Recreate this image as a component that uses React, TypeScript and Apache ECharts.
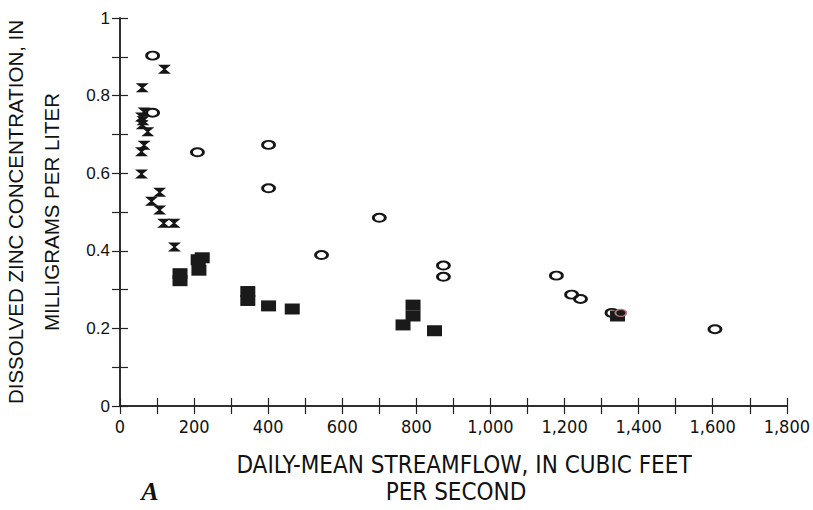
import React, { useEffect, useRef } from "react";
import * as echarts from "echarts";

// Daily-mean streamflow (ft³/s) and dissolved zinc (mg/L), three sample groups
const hourglassFlow = [60, 120, 65, 58, 62, 60, 75, 65, 58, 58, 107, 85, 107, 118, 146, 147];
const hourglassZinc = [0.82, 0.868, 0.758, 0.745, 0.735, 0.725, 0.707, 0.672, 0.655, 0.598, 0.551, 0.528, 0.505, 0.471, 0.471, 0.41];

const circleFlow = [88, 88, 209, 401, 401, 544, 700, 873, 873, 1178, 1219, 1243, 1328, 1606];
const circleZinc = [0.903, 0.756, 0.654, 0.673, 0.561, 0.389, 0.485, 0.362, 0.333, 0.336, 0.287, 0.276, 0.24, 0.198];

const squareFlow = [162, 162, 211, 222, 213, 345, 345, 401, 465, 791, 791, 764, 849, 1343];
const squareZinc = [0.341, 0.323, 0.377, 0.382, 0.35, 0.295, 0.272, 0.258, 0.25, 0.26, 0.232, 0.209, 0.194, 0.232];

// single reddish-rimmed circle over the square near 1,350
const tintedFlow = [1352];
const tintedZinc = [0.24];

const xTitleLines = ["DAILY-MEAN STREAMFLOW, IN CUBIC FEET", "PER SECOND"];
const yTitleLines = ["DISSOLVED ZINC CONCENTRATION, IN", "MILLIGRAMS PER LITER"];

const HOURGLASS = "path://M0,0 L12,0 L7,4 L12,8 L0,8 L5,4 Z";
const ELLIPSE = "path://M0,4 A6,4 0 1,1 12,4 A6,4 0 1,1 0,4 Z";

const NARROW = "'Liberation Sans Narrow', 'DejaVu Sans Condensed', 'Arial Narrow', sans-serif";
const SANS = "'Liberation Sans', Arial, sans-serif";

const zip = (xs: number[], ys: number[]) => xs.map((x, i) => [x, ys[i]]);

export default function App() {
  const ref = useRef<HTMLDivElement>(null);

  useEffect(() => {
    if (!ref.current) return;
    const chart = echarts.init(ref.current, null, { renderer: "svg" });

    const axisLine = { show: true, lineStyle: { color: "#222", width: 1.5 } };
    const tick = { show: true, inside: true, length: 8, lineStyle: { color: "#222", width: 1.2 } };

    const xLabel = (v: number) => (v % 200 === 0 ? v.toLocaleString("en-US") : "");
    const yLabel = (v: number) => {
      const t = Math.round(v * 10);
      if (t % 2 !== 0) return "";
      if (t === 0) return "0";
      if (t === 10) return "1";
      return (t / 10).toFixed(1);
    };

    chart.setOption({
      animation: false,
      backgroundColor: "#fff",
      grid: { left: 120, right: 20, top: 18, bottom: 104, containLabel: false },
      xAxis: [
        {
          type: "value",
          position: "bottom",
          min: 0,
          max: 1800,
          interval: 100,
          axisLine,
          axisTick: tick,
          splitLine: { show: false },
          axisLabel: {
            formatter: xLabel,
            margin: 11,
            color: "#111",
            fontSize: 18,
            fontFamily: NARROW,
          },
        },
        {
          type: "value",
          position: "top",
          min: 0,
          max: 1800,
          interval: 100,
          axisLine,
          axisTick: tick,
          splitLine: { show: false },
          axisLabel: { show: false },
        },
      ],
      yAxis: [
        {
          type: "value",
          position: "left",
          min: 0,
          max: 1,
          interval: 0.1,
          axisLine,
          axisTick: tick,
          splitLine: { show: false },
          axisLabel: {
            formatter: yLabel,
            margin: 10,
            color: "#111",
            fontSize: 17,
            fontFamily: SANS,
          },
        },
        {
          type: "value",
          position: "right",
          min: 0,
          max: 1,
          interval: 0.1,
          axisLine,
          axisTick: tick,
          splitLine: { show: false },
          axisLabel: { show: false },
        },
      ],
      series: [
        {
          type: "scatter",
          data: zip(circleFlow, circleZinc),
          symbol: ELLIPSE,
          symbolSize: [12, 8],
          itemStyle: { color: "rgba(0,0,0,0)", borderColor: "#151515", borderWidth: 2.4, opacity: 1 },
        },
        {
          type: "scatter",
          data: zip(squareFlow, squareZinc),
          symbol: "rect",
          symbolSize: [15, 11],
          itemStyle: { color: "#1a1a1a", opacity: 1 },
        },
        {
          type: "scatter",
          data: zip(tintedFlow, tintedZinc),
          symbol: ELLIPSE,
          symbolSize: [11, 7],
          itemStyle: { color: "#1a1a1a", borderColor: "#b87c7c", borderWidth: 1.5, opacity: 1 },
        },
        {
          type: "scatter",
          data: zip(hourglassFlow, hourglassZinc),
          symbol: HOURGLASS,
          symbolSize: [13, 9],
          itemStyle: { color: "#151515", opacity: 1 },
        },
      ],
      graphic: [
        {
          type: "text",
          x: 15,
          y: 212,
          rotation: Math.PI / 2,
          style: {
            text: yTitleLines[0],
            fill: "#111",
            fontSize: 20.5,
            fontFamily: SANS,
            align: "center",
            verticalAlign: "middle",
          },
        },
        {
          type: "text",
          x: 51,
          y: 212,
          rotation: Math.PI / 2,
          style: {
            text: yTitleLines[1],
            fill: "#111",
            fontSize: 20.5,
            fontFamily: SANS,
            align: "center",
            verticalAlign: "middle",
          },
        },
        {
          type: "text",
          x: 464,
          y: 465,
          style: {
            text: xTitleLines[0],
            fill: "#111",
            fontSize: 24,
            fontFamily: NARROW,
            align: "center",
            verticalAlign: "middle",
          },
        },
        {
          type: "text",
          x: 456,
          y: 492,
          style: {
            text: xTitleLines[1],
            fill: "#111",
            fontSize: 24,
            fontFamily: NARROW,
            align: "center",
            verticalAlign: "middle",
          },
        },
        {
          type: "text",
          x: 150,
          y: 491,
          style: {
            text: "A",
            fill: "#111",
            fontSize: 26,
            fontStyle: "italic",
            fontWeight: "bold",
            fontFamily: "'Liberation Serif', 'DejaVu Serif', serif",
            align: "center",
            verticalAlign: "middle",
          },
        },
      ],
    });

    return () => chart.dispose();
  }, []);

  return (
    <div
      ref={ref}
      style={{ position: "absolute", left: 0, top: 0, width: 813, height: 510 }}
    />
  );
}
